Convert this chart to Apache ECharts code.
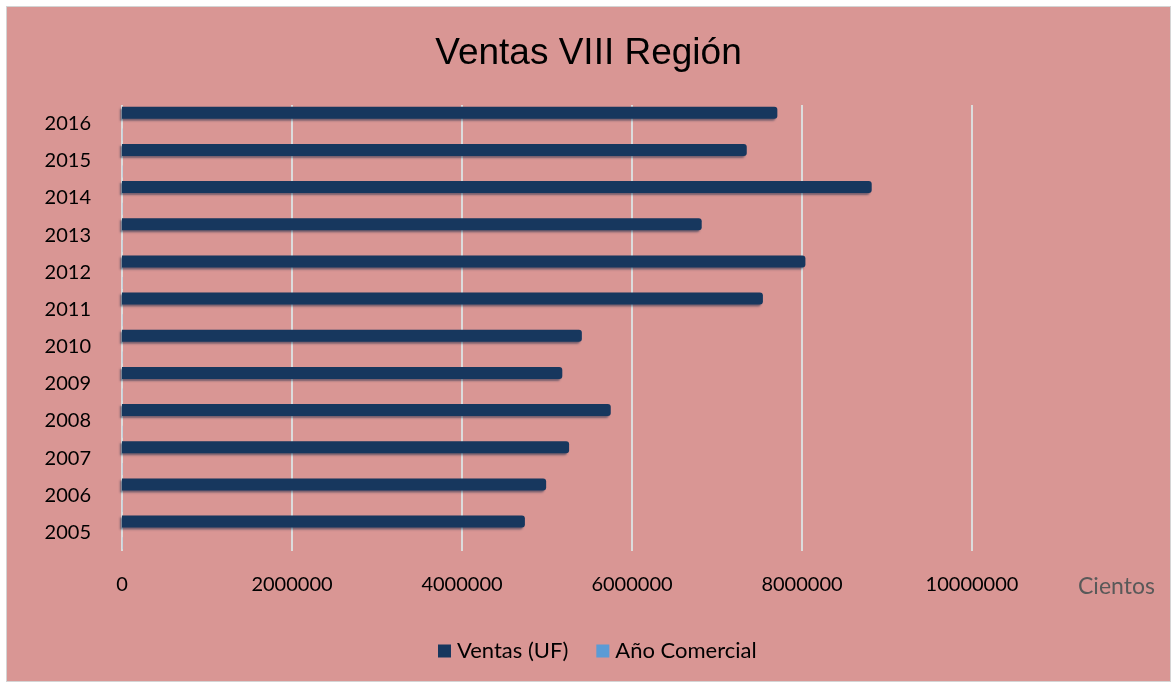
<!DOCTYPE html>
<html>
<head>
<meta charset="utf-8">
<script src="https://cdn.jsdelivr.net/npm/echarts@6/dist/echarts.min.js"></script>
<style>
  html, body { margin: 0; padding: 0; background: #ffffff; }
  #chart {
    position: absolute; left: 6px; top: 6px;
    width: 1163px; height: 674px;
    border: 1px solid #d4d4d4;
    background: #d99694;
  }
</style>
</head>
<body>
<div id="chart"></div>
<script>
// datos
var years = ['2005', '2006', '2007', '2008', '2009', '2010', '2011', '2012', '2013', '2014', '2015', '2016'];
var ventasUF = [4740000, 4990000, 5260000, 5750000, 5180000, 5410000, 7540000, 8040000, 6820000, 8820000, 7350000, 7710000];
var anoComercial = [2005, 2006, 2007, 2008, 2009, 2010, 2011, 2012, 2013, 2014, 2015, 2016];
var xTicks = [0, 2000000, 4000000, 6000000, 8000000, 10000000];

var myChart = echarts.init(document.getElementById('chart'));
var font = 'Lato, "Open Sans", sans-serif';

var option = {
    backgroundColor: 'transparent',
    animation: false,
    title: {
        text: 'Ventas VIII Región',
        left: 'center',
        top: 28,
        padding: 0,
        textStyle: { fontFamily: '"Liberation Sans", Arial, sans-serif', fontSize: 37, fontWeight: 'normal', color: '#000' }
    },
    legend: {
        data: ['Ventas (UF)', 'Año Comercial'],
        left: 431,
        bottom: 19,
        padding: 0,
        itemWidth: 13,
        itemHeight: 13,
        itemGap: 28,
        icon: 'rect',
        textStyle: { fontFamily: font, fontSize: 22, color: '#000', padding: [0, 0, 0, 1] }
    },
    grid: {
        left: 115,
        top: 98,
        width: 850,
        height: 446,
        containLabel: false
    },
    graphic: [{
        type: 'text',
        left: 1071,
        top: 568,
        style: { text: 'Cientos', fontFamily: font, fontSize: 23, fill: '#595959' }
    }],
    xAxis: {
        type: 'value',
        min: xTicks[0],
        max: xTicks[xTicks.length - 1],
        interval: 2000000,
        axisLine: { show: false },
        axisTick: { show: false },
        axisLabel: {
            margin: 24, fontFamily: font, fontSize: 20, color: '#000',
            formatter: function (v) { return String(v); }
        },
        splitLine: { show: true, lineStyle: { color: '#dcdcdc', width: 2 } }
    },
    yAxis: {
        type: 'category',
        data: years,
        axisLine: { show: false },
        axisTick: { show: false },
        axisLabel: { margin: 31, fontFamily: font, fontSize: 20, color: '#000' }
    },
    series: [{
        name: 'Ventas (UF)',
        type: 'bar',
        barWidth: 12,
        barGap: '80%',
        itemStyle: {
            color: '#17375e',
            borderRadius: [0, 3, 3, 0],
            shadowColor: 'rgba(20,40,70,0.5)',
            shadowBlur: 2,
            shadowOffsetX: -2,
            shadowOffsetY: 2
        },
        data: ventasUF
    }, {
        name: 'Año Comercial',
        type: 'bar',
        barWidth: 12,
        itemStyle: { color: '#5b9bd5' },
        data: anoComercial
    }]
};

option && myChart.setOption(option);
</script>
</body>
</html>
